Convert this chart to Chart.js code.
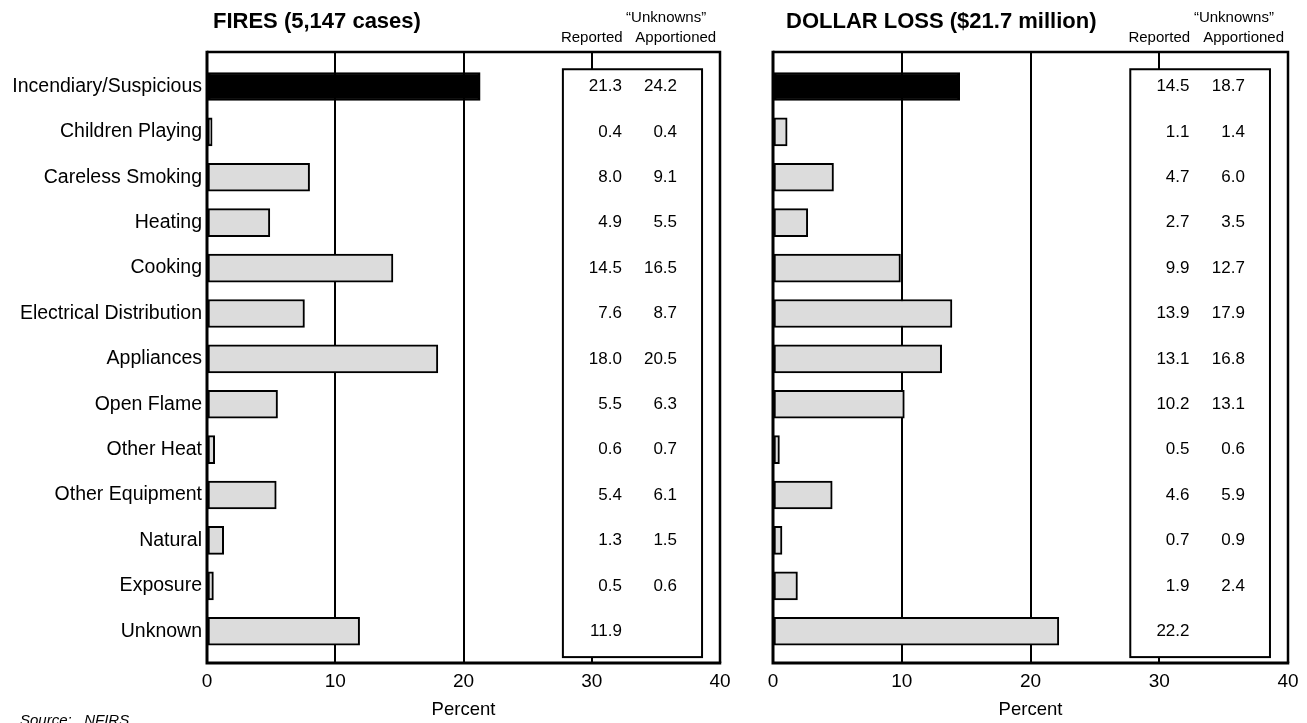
<!DOCTYPE html>
<html>
<head>
<meta charset="utf-8">
<script src="https://cdn.jsdelivr.net/npm/chart.js@4.4.1/dist/chart.umd.min.js"></script>
<style>
  body { margin: 0; background: #fff; width: 1307px; height: 723px; overflow: hidden; position: relative; }
  canvas { position: absolute; top: 0; }
  #source { position: absolute; left: 20px; top: 711px; font: italic 15px 'Liberation Sans', Arial, sans-serif; color: #000; white-space: pre; }
</style>
</head>
<body>
<canvas id="fires" width="740" height="723" style="left:0"></canvas>
<canvas id="loss" width="562" height="723" style="left:745px"></canvas>
<div id="source">Source:   NFIRS</div>
<script>
// Causes, top to bottom
const causes = [
    'Incendiary/Suspicious', 'Children Playing', 'Careless Smoking', 'Heating',
    'Cooking', 'Electrical Distribution', 'Appliances', 'Open Flame',
    'Other Heat', 'Other Equipment', 'Natural', 'Exposure', 'Unknown'
];

// Percent of fires
const firesReported    = [21.3, 0.4, 8.0, 4.9, 14.5, 7.6, 18.0, 5.5, 0.6, 5.4, 1.3, 0.5, 11.9];
const firesApportioned = [24.2, 0.4, 9.1, 5.5, 16.5, 8.7, 20.5, 6.3, 0.7, 6.1, 1.5, 0.6, null];

// Percent of dollar loss
const lossReported    = [14.5, 1.1, 4.7, 2.7, 9.9, 13.9, 13.1, 10.2, 0.5, 4.6, 0.7, 1.9, 22.2];
const lossApportioned = [18.7, 1.4, 6.0, 3.5, 12.7, 17.9, 16.8, 13.1, 0.6, 5.9, 0.9, 2.4, null];

const xTicks = [0, 10, 20, 30, 40];

const FONT = "'Liberation Sans', Arial, sans-serif";

// Draws the title, the column headers, the value box and the frame
const panelPlugin = {
    id: 'panel',
    beforeDatasetsDraw(chart) {
        const ctx = chart.ctx;
        const x = chart.scales.x, y = chart.scales.y;
        const opts = chart.options.plugins.panel;
        // white box holding the numbers
        const bx1 = x.getPixelForValue(27.75), bx2 = x.getPixelForValue(38.6);
        const by1 = y.getPixelForValue(-0.38), by2 = y.getPixelForValue(12.57);
        ctx.save();
        ctx.fillStyle = '#fff';
        ctx.fillRect(bx1, by1, bx2 - bx1, by2 - by1);
        ctx.lineWidth = 2;
        ctx.strokeStyle = '#000';
        ctx.strokeRect(bx1, by1, bx2 - bx1, by2 - by1);

        ctx.fillStyle = '#000';
        ctx.font = '17px ' + FONT;
        ctx.textAlign = 'right';
        ctx.textBaseline = 'middle';
        opts.reported.forEach((v, i) => {
            const py = y.getPixelForValue(i);
            if (v !== null) ctx.fillText(v.toFixed(1), x.getPixelForValue(32.35), py);
            const a = opts.apportioned[i];
            if (a !== null) ctx.fillText(a.toFixed(1), x.getPixelForValue(36.65), py);
        });

        // headers
        ctx.font = '15px ' + FONT;
        ctx.textAlign = 'center';
        ctx.fillText('Reported', x.getPixelForValue(30.0), 38);
        ctx.fillText('\u201CUnknowns\u201D', x.getPixelForValue(35.8), 18);
        ctx.fillText('Apportioned', x.getPixelForValue(36.55), 38);

        // title
        ctx.font = 'bold 22px ' + FONT;
        ctx.textAlign = 'left';
        ctx.fillText(opts.title, chart.chartArea.left + opts.titleOffset, 22);
        ctx.restore();
    },
    afterDatasetsDraw(chart) {
        const ctx = chart.ctx;
        const a = chart.chartArea;
        ctx.save();
        ctx.strokeStyle = '#000';
        ctx.lineWidth = 2.5;
        ctx.beginPath();
        ctx.moveTo(a.left, a.top);
        ctx.lineTo(a.right, a.top);
        ctx.lineTo(a.right, a.bottom);
        ctx.stroke();
        ctx.lineWidth = 3;
        ctx.beginPath();
        ctx.moveTo(a.left, a.top - 1.25);
        ctx.lineTo(a.left, a.bottom);
        ctx.lineTo(a.right + 1.25, a.bottom);
        ctx.stroke();
        ctx.restore();
    }
};

function makePanel(id, title, titleOffset, reported, apportioned, showLabels, axisWidth, padRight) {
    const ctx = document.getElementById(id).getContext('2d');
    return new Chart(ctx, {
        type: 'bar',
        data: {
            datasets: [{
                data: reported.map((v, i) => ({ x: v, y: i })),
                backgroundColor: reported.map((v, i) => i === 0 ? '#000000' : '#dcdcdc'),
                borderColor: '#000',
                borderWidth: 2,
                borderSkipped: false,
                barThickness: 28
            }]
        },
        options: {
            indexAxis: 'y',
            responsive: false,
            animation: false,
            devicePixelRatio: 1,
            layout: { padding: { top: 52, right: padRight, bottom: 0, left: 0 } },
            plugins: {
                legend: { display: false },
                tooltip: { enabled: false },
                panel: { title, titleOffset, reported, apportioned }
            },
            scales: {
                x: {
                    type: 'linear',
                    min: 0,
                    max: 40,
                    afterBuildTicks: s => { s.ticks = xTicks.map(v => ({ value: v })); },
                    afterFit: s => { s.height = 60; },
                    grid: {
                        drawTicks: false,
                        lineWidth: 2,
                        color: c => (c.tick && (c.tick.value === 0 || c.tick.value === 40)) ? 'rgba(0,0,0,0)' : '#000'
                    },
                    border: { display: false },
                    ticks: { color: '#000', font: { family: FONT, size: 19 }, padding: 7, maxRotation: 0 },
                    title: {
                        display: true,
                        text: 'Percent',
                        color: '#000',
                        font: { family: FONT, size: 18.5 },
                        padding: { top: 0, bottom: 2 }
                    }
                },
                y: {
                    type: 'linear',
                    reverse: true,
                    offset: false,
                    min: -0.76,
                    max: 12.7,
                    afterBuildTicks: s => { s.ticks = causes.map((c, i) => ({ value: i })); },
                    afterFit: s => { s.width = axisWidth; },
                    grid: { display: false, drawTicks: false, offset: false },
                    border: { display: false },
                    ticks: {
                        display: showLabels,
                        color: '#000',
                        padding: 5,
                        font: { family: FONT, size: 19.5 },
                        callback: v => causes[v]
                    }
                }
            }
        },
        plugins: [panelPlugin]
    });
}

makePanel('fires', 'FIRES (5,147 cases)', 6, firesReported, firesApportioned, true, 207, 20);
makePanel('loss', 'DOLLAR LOSS ($21.7 million)', 13, lossReported, lossApportioned, false, 28, 19);
</script>
</body>
</html>
